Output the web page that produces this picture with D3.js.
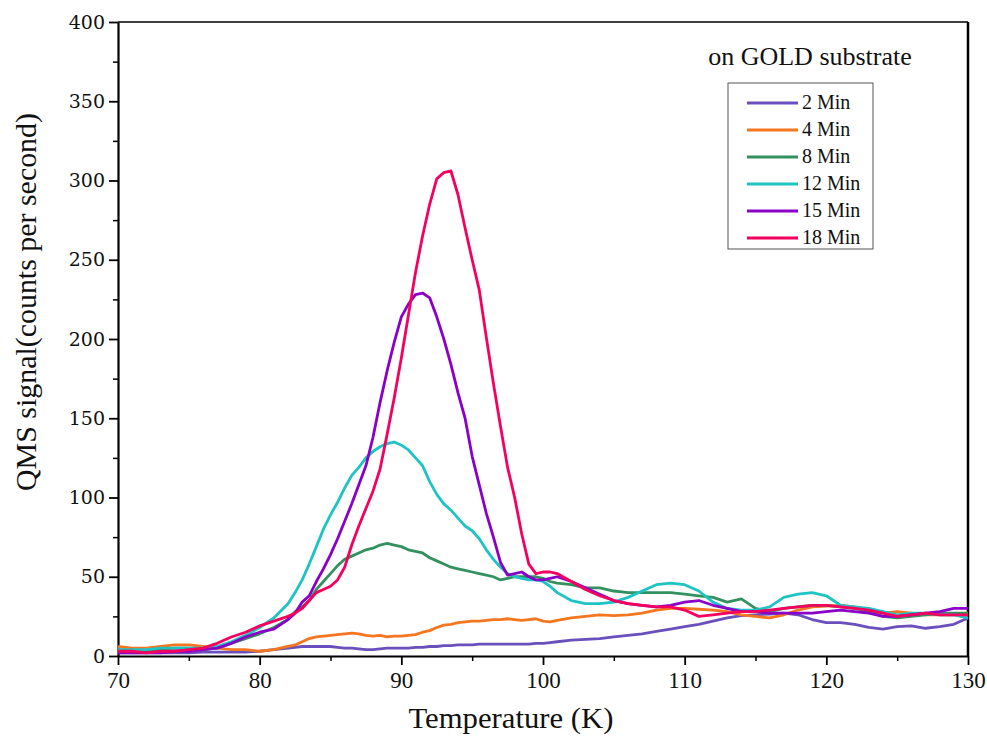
<!DOCTYPE html>
<meta charset="utf-8">
<style>
  body { margin: 0; background: #fff; }
  svg text { font-family: 'Liberation Serif', serif; fill: #111; }
</style>
<svg width="987" height="736"></svg>
<script src="https://cdn.jsdelivr.net/npm/d3@7/dist/d3.min.js"></script>
<script>
// temperature grid (K)
var temps = [70,71,72,73,74,75,76,77,78,79,80,81,82,
  82.5,83,83.5,84,84.5,85,85.5,86,86.5,87,87.5,88,88.5,89,89.5,90,90.5,91,91.5,92,92.5,93,93.5,94,94.5,95,95.5,96,96.5,97,97.5,98,98.5,99,99.5,100,100.5,101,
  102,103,104,105,106,107,108,109,110,111,112,113,114,115,116,117,118,119,120,121,122,123,124,125,126,127,128,129,130];

var min2 = [2,2,2,2,2,2,2.5,2.5,2.5,2.5,3,4,5,
  5.5,6,6,6,6,6,5.5,5,5,4.5,4,4,4.5,5,5,5,5,5.5,5.5,6,6,6.5,6.5,7,7,7,7.5,7.5,7.5,7.5,7.5,7.5,7.5,7.5,8,8,8.5,9,
  10,10.5,11,12,13,14,15.5,17,18.5,20,22,24,25.5,26,26.5,27,26,23,21,21,20,18,17,18.5,19,17.5,18.5,20,24];

var min4 = [6,5,5,6,7,7,6,5,4,4,3,4,6,
  7,9,11,12,12.5,13,13.5,14,14.5,14,13,12.5,13,12,12.5,12.5,13,13.5,15,16,18,19.5,20,21,21.5,22,22,22.5,23,23,23.5,23,22.5,23,23.5,22,21.5,22.5,
  24,25,26,25.5,26,27,29,30,30,29.5,29,28,26,25,24,26,29,31,31.5,32,31,29,27,28,27,26,26,26,27];

var min8 = [4,3,3,4,5,5,4,5,8,11,14,18,23,
  28,31,35,42,47,52,57,61,63,65,67,68,70,71,70,69,67,66,65,62,60,58,56,55,54,53,52,51,50,48,49,50,50,50,50,49,47,46,
  45,43,43,41,40,40,40,40,39,38,37,34,36,30,28,30,31,32,32,31,30,28,25,24,25,26,27,27,27];

var min12 = [4,4,4,5,5,5,5,6,9,13,18,24,33,
  40,48,58,69,80,89,97,106,114,119,125,129,132,134,135,133,130,125,120,110,102,96,92,87,82,79,74,67,61,56,52,50,49,48,48,47,44,40,
  35,33,33,34,37,41,45,46,45,41,34,30,29,29,31,37,39,40,38,32,31,30,28,26,27,27,26,26,24];

var min15 = [2,2,2,2,3,3,4,5,8,12,15,17,23,
  27,34,38,47,55,64,74,85,96,108,120,138,160,180,198,214,222,228,229,226,214,200,184,166,150,126,108,90,75,59,51,52,53,50,48,48,49,50,
  47,43,39,35,33,32,31,32,34,35,32,30,28,28,27,27,27,27,28,29,28,27,25,25,26,27,28,30,30];

var min18 = [3,3,2,3,3,4,5,8,12,15,19,22,25,
  27,30,35,40,42,44,48,56,70,82,93,104,118,140,163,188,215,242,265,285,301,305,306,291,270,250,231,201,172,145,119,100,77,58,52,53,53,52,
  47,42,38,35,33,32,31,31,29,25,26,27,28,28,29,30,31,32,32,31,30,29,27,25,26,27,26,26,26];

var seriesNames = ["2 Min", "4 Min", "8 Min", "12 Min", "15 Min", "18 Min"];
var seriesData = [min2, min4, min8, min12, min15, min18];
var colors = ["#6a50bd", "#f4761f", "#33905f", "#1ec3c3", "#8a00c8", "#f5005e"];

var xTicks = [70, 80, 90, 100, 110, 120, 130];
var yTicks = [0, 50, 100, 150, 200, 250, 300, 350, 400];

var svg = d3.select("svg"),
    margin = {top: 22, right: 19, bottom: 80, left: 118},
    width = 987 - margin.left - margin.right,
    height = 736 - margin.top - margin.bottom,
    g = svg.append("g").attr("transform", "translate(" + margin.left + "," + margin.top + ")");

var x = d3.scaleLinear().domain([70, 130]).range([0, width]);
var y = d3.scaleLinear().domain([0, 400]).range([height, 0]);

// minor ticks
g.append("g")
    .attr("transform", "translate(0," + height + ")")
    .call(d3.axisBottom(x).tickValues(d3.range(75, 130, 10)).tickSize(5).tickSizeOuter(0).tickFormat(""))
    .call(function(a) { a.select(".domain").remove(); a.selectAll("line").attr("stroke-width", 1.5); });
g.append("g")
    .call(d3.axisLeft(y).tickValues(d3.range(25, 400, 50)).tickSize(5).tickSizeOuter(0).tickFormat(""))
    .call(function(a) { a.select(".domain").remove(); a.selectAll("line").attr("stroke-width", 1.5); });

// major axes
g.append("g")
    .attr("transform", "translate(0," + height + ")")
    .call(d3.axisBottom(x).tickValues(xTicks).tickSize(9).tickSizeOuter(0).tickPadding(7))
    .call(function(a) {
      a.select(".domain").attr("stroke-width", 2.2);
      a.selectAll("line").attr("stroke-width", 1.8);
      a.selectAll("text").style("font-size", "23px").attr("fill", "#111");
    });

g.append("g")
    .call(d3.axisLeft(y).tickValues(yTicks).tickSize(9).tickSizeOuter(0).tickPadding(4))
    .call(function(a) {
      a.select(".domain").attr("stroke-width", 2.2);
      a.selectAll("line").attr("stroke-width", 1.8);
      a.selectAll("text").style("font-family", "'DejaVu Serif', serif").style("font-size", "19px").attr("fill", "#111");
    });

// top and right frame
g.append("line").attr("x1", 0).attr("x2", width).attr("y1", 0).attr("y2", 0)
    .attr("stroke", "#000").attr("stroke-width", 1.5);
g.append("line").attr("x1", width).attr("x2", width).attr("y1", 0).attr("y2", height)
    .attr("stroke", "#000").attr("stroke-width", 2.5);

// series
var line = d3.line()
    .x(function(d, i) { return x(temps[i]); })
    .y(function(d) { return y(d); });

seriesData.forEach(function(s, k) {
  g.append("path")
      .datum(s)
      .attr("fill", "none")
      .attr("stroke", colors[k])
      .attr("stroke-width", 2.8)
      .attr("stroke-linejoin", "round")
      .attr("d", line);
});

// axis titles
svg.append("text")
    .attr("x", margin.left + width / 2 - 32)
    .attr("y", 728)
    .attr("text-anchor", "middle")
    .attr("textLength", 205)
    .attr("lengthAdjust", "spacingAndGlyphs")
    .style("font-size", "29px")
    .text("Temperature (K)");

svg.append("text")
    .attr("transform", "translate(36," + 302 + ") rotate(-90)")
    .attr("text-anchor", "middle")
    .attr("textLength", 378)
    .attr("lengthAdjust", "spacingAndGlyphs")
    .style("font-size", "29px")
    .text("QMS signal(counts per second)");

// annotation
svg.append("text")
    .attr("x", 810)
    .attr("y", 65)
    .attr("text-anchor", "middle")
    .style("font-size", "26px")
    .text("on GOLD substrate");

// legend
var lg = svg.append("g").attr("transform", "translate(728,83)");
lg.append("rect")
    .attr("width", 145).attr("height", 166)
    .attr("fill", "#fff").attr("stroke", "#555").attr("stroke-width", 1);
seriesNames.forEach(function(n, k) {
  var yy = 20 + k * 27;
  lg.append("line").attr("x1", 19).attr("x2", 70).attr("y1", yy).attr("y2", yy)
      .attr("stroke", colors[k]).attr("stroke-width", 3);
  lg.append("text").attr("x", 74).attr("y", yy + 6)
      .style("font-size", "20px").text(n);
});
</script>
